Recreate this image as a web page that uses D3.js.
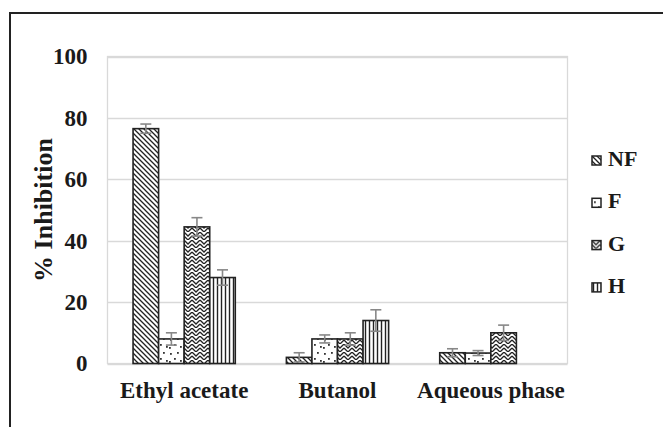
<!DOCTYPE html>
<html>
<head>
<meta charset="utf-8">
<script src="https://cdn.jsdelivr.net/npm/d3@7"></script>
<style>
  body { margin: 0; background: #fff; }
  text { font-family: "Liberation Serif", "Times New Roman", serif; font-weight: bold; fill: #1a1a1a; }
</style>
</head>
<body>
<script>
// data
var categories = ["Ethyl acetate", "Butanol", "Aqueous phase"];
var seriesNames = ["NF", "F", "G", "H"];
var valuesNF = [76.5, 2, 3.5];
var valuesF = [8, 8, 3.4];
var valuesG = [44.5, 8, 10];
var valuesH = [28, 14, 0];
var errNF = [1.5, 1.5, 1.3];
var errF = [2, 1.3, 0.8];
var errG = [3, 2, 2.5];
var errH = [2.5, 3.5, 0];
var yTicks = [0, 20, 40, 60, 80, 100];

var allValues = [valuesNF, valuesF, valuesG, valuesH];
var allErrors = [errNF, errF, errG, errH];

var W = 663, H = 427;
var plot = {left: 107.5, right: 567.5, top: 56.5, bottom: 363.5};

var svg = d3.select("body").append("svg")
    .attr("width", W)
    .attr("height", H);

// patterns
var defs = svg.append("defs");

var pNF = defs.append("pattern").attr("id", "pat-NF")
    .attr("patternUnits", "userSpaceOnUse").attr("width", 5).attr("height", 5);
pNF.append("rect").attr("width", 5).attr("height", 5).attr("fill", "#fff");
pNF.append("path").attr("d", "M-1,-1 L6,6 M-1,4 L1,6 M4,-1 L6,1")
    .attr("stroke", "#222").attr("stroke-width", 1.3);

var pF = defs.append("pattern").attr("id", "pat-F")
    .attr("patternUnits", "userSpaceOnUse").attr("width", 14).attr("height", 14);
pF.append("rect").attr("width", 14).attr("height", 14).attr("fill", "#fff");
[[2, 3], [9, 2], [6, 8], [12, 10], [1, 11]].forEach(function(p) {
  pF.append("rect").attr("x", p[0]).attr("y", p[1]).attr("width", 1.8).attr("height", 1.8).attr("fill", "#333");
});

var pG = defs.append("pattern").attr("id", "pat-G")
    .attr("patternUnits", "userSpaceOnUse").attr("width", 8).attr("height", 8);
pG.append("rect").attr("width", 8).attr("height", 8).attr("fill", "#fff");
pG.append("path").attr("d", "M0,0 L4,4 L8,0 M0,4 L4,8 L8,4")
    .attr("stroke", "#222").attr("stroke-width", 1.3).attr("fill", "none");

var pH = defs.append("pattern").attr("id", "pat-H")
    .attr("patternUnits", "userSpaceOnUse").attr("width", 4).attr("height", 4);
pH.append("rect").attr("width", 4).attr("height", 4).attr("fill", "#fff");
pH.append("line").attr("x1", 1.5).attr("x2", 1.5).attr("y1", 0).attr("y2", 4)
    .attr("stroke", "#222").attr("stroke-width", 1.4);

// outer frame
svg.append("path")
    .attr("d", "M10,427 L10,13 L663,13")
    .attr("fill", "none").attr("stroke", "#222").attr("stroke-width", 2);

// scales
var x = d3.scaleBand().domain(categories).range([plot.left, plot.right]).paddingInner(0).paddingOuter(0);
var xs = d3.scaleBand().domain(seriesNames).range([0, x.bandwidth()]).paddingOuter(1).paddingInner(0);
var y = d3.scaleLinear().domain([0, 100]).range([plot.bottom, plot.top]);

// gridlines
svg.append("g").selectAll("line")
    .data(yTicks)
  .enter().append("line")
    .attr("x1", plot.left).attr("x2", plot.right)
    .attr("y1", function(d) { return Math.round(y(d)) + 0.5; })
    .attr("y2", function(d) { return Math.round(y(d)) + 0.5; })
    .attr("stroke", "#d9d9d9").attr("stroke-width", 1.3);

svg.append("rect")
    .attr("x", plot.left).attr("y", plot.top)
    .attr("width", plot.right - plot.left).attr("height", plot.bottom - plot.top)
    .attr("fill", "none").attr("stroke", "#d9d9d9").attr("stroke-width", 1.3);

// y axis
var yAxis = svg.append("g")
    .attr("transform", "translate(" + plot.left + ",0)")
    .call(d3.axisLeft(y).tickValues(yTicks).tickSize(0).tickPadding(20));
yAxis.select(".domain").remove();
yAxis.selectAll("text").style("font-size", "23px").style("font-family", "Liberation Serif").attr("fill", "#1a1a1a");

// x axis
var xAxis = svg.append("g")
    .attr("transform", "translate(0," + plot.bottom + ")")
    .call(d3.axisBottom(x).tickSize(0).tickPadding(18));
xAxis.select(".domain").remove();
xAxis.selectAll("text").style("font-size", "23px").style("font-family", "Liberation Serif").attr("fill", "#1a1a1a");

// y title
svg.append("text")
    .attr("transform", "translate(52," + ((plot.top + plot.bottom) / 2) + ") rotate(-90)")
    .attr("text-anchor", "middle")
    .style("font-size", "26px")
    .text("% Inhibition");

// bars
var groups = svg.append("g").selectAll("g")
    .data(seriesNames)
  .enter().append("g");

groups.selectAll("rect")
    .data(function(s, si) {
      return categories.map(function(c, ci) {
        return {s: s, c: c, v: allValues[si][ci], e: allErrors[si][ci]};
      }).filter(function(d) { return d.v > 0; });
    })
  .enter().append("rect")
    .attr("x", function(d) { return x(d.c) + xs(d.s); })
    .attr("y", function(d) { return y(d.v); })
    .attr("width", xs.bandwidth())
    .attr("height", function(d) { return y(0) - y(d.v); })
    .attr("fill", function(d) { return "url(#pat-" + d.s + ")"; })
    .attr("stroke", "#222").attr("stroke-width", 1.6);

// error bars
var err = [];
seriesNames.forEach(function(s, si) {
  categories.forEach(function(c, ci) {
    if (allValues[si][ci] > 0) err.push({s: s, c: c, v: allValues[si][ci], e: allErrors[si][ci]});
  });
});
var eg = svg.append("g").selectAll("g").data(err).enter().append("g")
    .attr("stroke", "#888").attr("stroke-width", 1.6);
function cx(d) { return x(d.c) + xs(d.s) + xs.bandwidth() / 2; }
eg.append("line")
    .attr("x1", cx).attr("x2", cx)
    .attr("y1", function(d) { return y(d.v + d.e); })
    .attr("y2", function(d) { return y(d.v - d.e); });
eg.append("line")
    .attr("x1", function(d) { return cx(d) - 5.5; }).attr("x2", function(d) { return cx(d) + 5.5; })
    .attr("y1", function(d) { return y(d.v + d.e); })
    .attr("y2", function(d) { return y(d.v + d.e); });
eg.append("line")
    .attr("x1", function(d) { return cx(d) - 5.5; }).attr("x2", function(d) { return cx(d) + 5.5; })
    .attr("y1", function(d) { return y(d.v - d.e); })
    .attr("y2", function(d) { return y(d.v - d.e); });

// legend
var legend = svg.append("g").selectAll("g")
    .data(seriesNames)
  .enter().append("g")
    .attr("transform", function(d, i) { return "translate(592," + (156 + i * 42.3) + ")"; });
legend.append("rect")
    .attr("width", 9).attr("height", 9)
    .attr("fill", function(d) { return "url(#pat-" + d + ")"; })
    .attr("stroke", "#222").attr("stroke-width", 1.5);
legend.append("text")
    .attr("x", 16).attr("y", 10)
    .style("font-size", "22px")
    .text(function(d) { return d; });
</script>
</body>
</html>
